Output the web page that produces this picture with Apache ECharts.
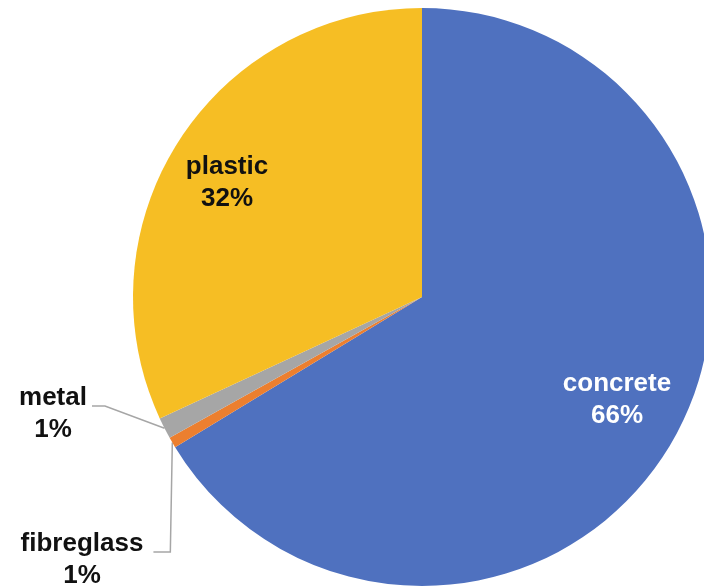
<!DOCTYPE html>
<html>
<head>
<meta charset="utf-8">
<script src="https://cdn.jsdelivr.net/npm/echarts@6/dist/echarts.min.js"></script>
<style>
  html, body { margin: 0; padding: 0; background: #ffffff; }
  #chart { width: 704px; height: 588px; }
</style>
</head>
<body>
<div id="chart"></div>
<script>
// Share of each material (percent), clockwise from 12 o'clock
const materials = ['concrete', 'fibreglass', 'metal', 'plastic'];
const shares = [66.3, 0.6, 1.2, 31.9];
const sliceColors = ['#4F71BF', '#EC7F2F', '#A6A6A6', '#F6BE24'];
const labelColors = ['#ffffff', '#111111', '#111111', '#111111'];
// where each label's text block is centred
const labelCentres = [[617, 400], [82, 560], [53, 414], [227, 183]];
const outsideLabel = [false, true, true, false];

const LINE_H = 32;

const chart = echarts.init(document.getElementById('chart'), null, { renderer: 'canvas' });

chart.setOption({
  animation: false,
  series: [{
    type: 'pie',
    center: [422, 297],
    radius: 289,
    startAngle: 90,
    clockwise: true,
    percentPrecision: 0,
    avoidLabelOverlap: false,
    data: materials.map((name, i) => ({
      name: name,
      value: shares[i],
      itemStyle: { color: sliceColors[i] },
      label: {
        position: outsideLabel[i] ? 'outside' : 'inside',
        color: labelColors[i]
      },
      labelLine: { show: outsideLabel[i] }
    })),
    label: {
      formatter: '{b}\n{d}%',
      fontFamily: '"Liberation Sans", Arial, sans-serif',
      fontWeight: 'bold',
      fontSize: 26,
      lineHeight: LINE_H,
      align: 'center'
    },
    labelLine: {
      length: 10,
      length2: 10,
      lineStyle: { color: '#A6A6A6', width: 1.5 }
    },
    labelLayout: function (p) {
      const i = p.dataIndex;
      const c = labelCentres[i];
      const out = { x: c[0], y: c[1], align: 'center', verticalAlign: 'middle' };
      if (outsideLabel[i] && p.labelLinePoints) {
        const w = p.labelRect.width;
        const h = p.labelRect.height;
        const right = c[0] + w / 2;
        const base = c[1] - h / 2 + LINE_H / 2 + 8;
        const start = p.labelLinePoints[0];
        if (materials[i] === 'metal') {
          out.labelLinePoints = [start, [right + 18, base], [right + 5, base]];
        } else {
          out.labelLinePoints = [start, [start[0] - 2, base], [right + 10, base]];
        }
      }
      return out;
    }
  }]
});
</script>
</body>
</html>
